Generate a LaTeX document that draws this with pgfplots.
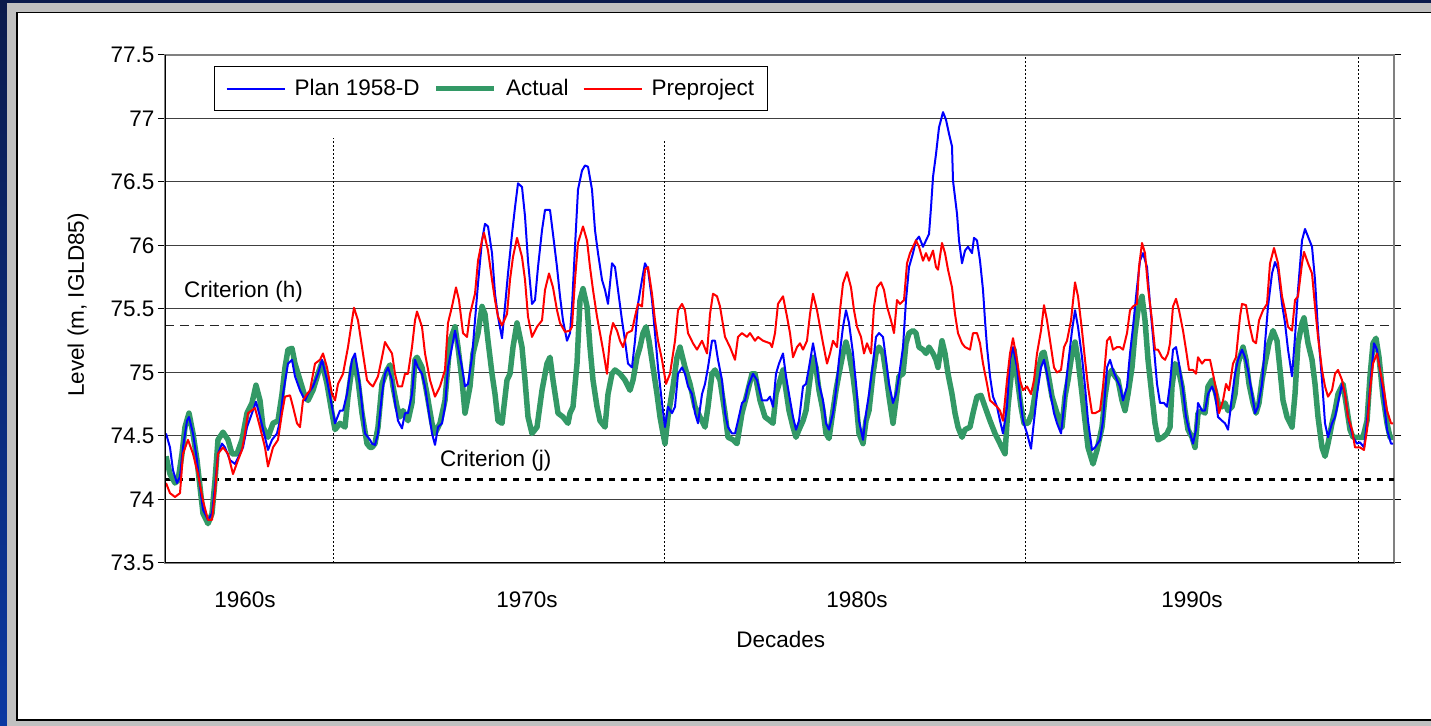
\documentclass[border=0pt]{standalone}
\usepackage{pgfplots}
\pgfplotsset{compat=1.18}
\usepackage{fontspec}
\setmainfont{Liberation Sans}
\definecolor{navytop}{HTML}{0A1A4C}
\definecolor{navybot}{HTML}{0A38A2}
\definecolor{frgray}{HTML}{C0C0C0}
\definecolor{actgreen}{HTML}{339966}
\begin{document}
\begin{tikzpicture}[font=\fontsize{22.5bp}{27bp}\selectfont]
\useasboundingbox (0,0) rectangle (1431bp,726bp);
\shade[top color=navytop, bottom color=navybot] (0,0) rectangle (1431bp,726bp);
\fill[frgray] (7bp,0) rectangle (1431bp,723bp);
\fill[white] (17bp,6bp) rectangle (1431bp,713.5bp);
\draw[black, line width=1.5bp] (1431bp,6bp) -- (17bp,6bp) -- (17bp,713.5bp) -- (1431bp,713.5bp);
\begin{axis}[
  at={(165bp,163bp)}, anchor=south west,
  scale only axis, width=1229bp, height=508bp,
  xmin=165, xmax=1394, ymin=73.5, ymax=77.5,
  ytick={73.5,74,74.5,75,75.5,76,76.5,77,77.5},
  yticklabels={73.5,74,74.5,75,75.5,76,76.5,77,77.5},
  ymajorgrids, grid style={black!75, line width=1bp},
  xtick={245,527,857,1192}, xticklabels={1960s,1970s,1980s,1990s},
  tick align=outside, major tick length=7bp,
  xtick style={draw=none},
  ytick style={black, line width=1bp},
  xticklabel style={anchor=base, yshift=-37bp},
  axis line style={draw=black!50, line width=1.5bp},
  ylabel={Level (m, IGLD85)},
  ylabel style={at={(rel axis cs:-0.0708,0.508)}, anchor=center},
  xlabel={Decades},
  xlabel style={at={(rel axis cs:0.501,0)}, anchor=base, yshift=-85bp},
  /pgf/number format/assume math mode=true,
  legend style={at={(rel axis cs:0.0399,0.978)}, anchor=north west, draw=black, line width=1bp, fill=white,
    legend columns=3, inner xsep=11bp, inner ysep=11bp,
    /tikz/every odd column/.append style={column sep=7bp},
    /tikz/every even column/.append style={column sep=12bp}},
  legend image code/.code={\draw[#1] (0bp,0bp) -- (58bp,0bp);},
  legend cell align=left,
]
% criteria and decade separators
\addplot[black!85, line width=1bp, dash pattern=on 9bp off 6bp, forget plot] coordinates {(165,75.37) (1394,75.37)};
\addplot[black, line width=3bp, dash pattern=on 6bp off 6bp, forget plot] coordinates {(165,74.16) (1394,74.16)};
\addplot[black, line width=1bp, dash pattern=on 1.5bp off 2.5bp, forget plot] coordinates {(333,73.5) (333,76.85)};
\addplot[black, line width=1bp, dash pattern=on 1.5bp off 2.5bp, forget plot] coordinates {(664,73.5) (664,76.83)};
\addplot[black, line width=1bp, dash pattern=on 1.5bp off 2.5bp, forget plot] coordinates {(1025,73.5) (1025,77.5)};
\addplot[black, line width=1bp, dash pattern=on 1.5bp off 2.5bp, forget plot] coordinates {(1358,73.5) (1358,77.5)};
% Actual
\addplot[actgreen, line width=5.5bp, line join=round, forget plot] coordinates {
(166,74.34)(170,74.20)(175,74.13)(178,74.15)(182,74.36)(185,74.57)(189,74.68)(193,74.52)(197,74.31)(200,74.10)(203,73.89)(208,73.81)(212,73.89)(215,74.15)(218,74.47)(223,74.53)(228,74.47)(232,74.36)(237,74.36)(242,74.47)(247,74.68)(252,74.76)(256,74.90)(260,74.78)(263,74.57)(268,74.49)(273,74.60)(278,74.62)(282,74.83)(285,75.04)(288,75.18)(292,75.19)(295,75.07)(300,74.94)(305,74.81)(308,74.78)(313,74.86)(318,74.99)(322,75.08)(327,74.91)(332,74.68)(335,74.55)(340,74.60)(345,74.57)(348,74.81)(352,75.04)(354,75.10)(358,74.94)(362,74.68)(367,74.44)(370,74.41)
(372,74.41)(375,74.44)(378,74.57)(382,74.91)(387,75.02)(390,75.06)(393,74.89)(397,74.73)(400,74.65)(403,74.70)(408,74.62)(412,74.76)(415,75.10)(417,75.12)(422,75.04)(427,74.83)(432,74.60)(435,74.52)(440,74.60)(445,74.78)(450,75.25)(455,75.36)(458,75.20)(462,74.94)(465,74.68)(470,74.89)(473,75.15)(478,75.31)(482,75.52)(485,75.46)(488,75.25)(492,74.99)(495,74.83)(498,74.62)(502,74.60)(507,74.94)(510,74.99)(513,75.20)(517,75.39)(522,75.20)(525,74.94)(528,74.65)(532,74.52)(537,74.57)(542,74.86)(547,75.07)(550,75.12)(553,74.94)(558,74.68)(563,74.65)(568,74.60)
(570,74.68)(573,74.73)(577,75.07)(580,75.57)(583,75.66)(587,75.52)(590,75.20)(593,74.94)(597,74.73)(600,74.62)(605,74.57)(608,74.83)(612,74.99)(615,75.02)(620,74.99)(625,74.94)(630,74.86)(633,74.94)(637,75.12)(640,75.20)(643,75.31)(646,75.36)(649,75.25)(653,75.04)(657,74.83)(660,74.65)(663,74.52)(665,74.44)(668,74.65)(673,74.89)(677,75.12)(680,75.20)(685,75.04)(690,74.91)(695,74.73)(700,74.65)(705,74.57)(708,74.73)(712,74.99)(715,75.02)(720,74.94)(725,74.68)(728,74.49)(733,74.47)(737,74.44)(742,74.68)(747,74.83)(752,74.99)(755,74.99)(760,74.78)(765,74.65)(770,74.62)
(773,74.60)(776,74.83)(779,74.91)(783,75.02)(786,74.86)(789,74.70)(793,74.57)(796,74.49)(799,74.55)(803,74.62)(806,74.70)(809,74.89)(813,75.12)(816,75.04)(819,74.86)(823,74.70)(826,74.52)(829,74.48)(833,74.70)(836,74.86)(839,74.99)(843,75.15)(846,75.24)(849,75.15)(853,74.97)(856,74.78)(859,74.52)(863,74.44)(866,74.62)(869,74.70)(873,74.99)(876,75.15)(879,75.20)(883,75.15)(886,74.99)(889,74.81)(893,74.60)(896,74.78)(899,74.97)(903,74.99)(906,75.23)(909,75.31)(913,75.33)(916,75.31)(919,75.20)(923,75.18)(926,75.15)(929,75.20)(933,75.15)(936,75.10)(938,75.04)(942,75.25)(945,75.15)(948,74.99)(952,74.83)(955,74.68)(958,74.57)(962,74.49)(965,74.55)(970,74.57)
(973,74.68)(977,74.81)(981,74.82)(985,74.73)(990,74.62)(995,74.52)(1000,74.44)(1005,74.36)(1008,74.73)(1012,75.04)(1014,75.18)(1017,74.97)(1021,74.73)(1024,74.60)(1028,74.60)(1032,74.68)(1035,74.83)(1038,75.01)(1042,75.15)(1044,75.16)(1047,75.04)(1052,74.81)(1057,74.68)(1062,74.57)(1065,74.81)(1068,74.94)(1072,75.15)(1075,75.24)(1078,75.10)(1082,74.83)(1085,74.62)(1088,74.41)(1093,74.28)(1097,74.39)(1102,74.57)(1105,74.81)(1108,74.97)(1112,75.02)(1115,74.97)(1118,74.94)(1122,74.78)(1125,74.70)(1128,74.83)(1132,75.04)(1135,75.31)(1138,75.49)(1142,75.60)(1145,75.41)(1148,75.10)(1152,74.81)(1155,74.60)(1158,74.47)(1163,74.49)(1167,74.52)(1170,74.57)
(1172,74.89)(1175,75.07)(1178,75.04)(1182,74.89)(1185,74.70)(1188,74.55)(1192,74.49)(1195,74.41)(1198,74.68)(1202,74.70)(1205,74.68)(1208,74.89)(1212,74.94)(1215,74.86)(1218,74.76)(1222,74.73)(1225,74.76)(1228,74.70)(1232,74.73)(1235,74.83)(1238,75.07)(1243,75.20)(1246,75.10)(1249,74.91)(1253,74.76)(1256,74.68)(1259,74.76)(1262,74.94)(1265,75.07)(1269,75.23)(1273,75.33)(1277,75.25)(1280,75.02)(1283,74.78)(1287,74.65)(1292,74.57)(1295,74.83)(1298,75.23)(1302,75.39)(1304,75.43)(1308,75.23)(1312,75.10)(1315,74.91)(1318,74.65)(1322,74.41)(1325,74.34)(1328,74.44)(1332,74.60)(1335,74.70)(1338,74.83)(1343,74.91)(1346,74.76)(1350,74.55)(1353,74.49)(1358,74.49)(1363,74.49)(1367,74.62)(1370,74.97)(1373,75.23)(1376,75.27)(1379,75.12)(1383,74.81)(1387,74.60)(1390,74.49)(1393,74.49)
};
% Plan 1958-D
\addplot[blue, line width=2bp, line join=round, forget plot] coordinates {
(166,74.52)(170,74.41)(173,74.23)(177,74.13)(180,74.18)(183,74.41)(187,74.62)(189,74.65)(193,74.52)(197,74.31)(200,74.10)(203,73.92)(208,73.84)(212,73.89)(215,74.10)(218,74.36)(222,74.44)(225,74.41)(230,74.31)(235,74.28)(240,74.36)(243,74.41)(247,74.57)(252,74.68)(256,74.77)(260,74.65)(265,74.49)(268,74.39)(272,74.47)(277,74.52)(280,74.62)(283,74.83)(288,75.07)(292,75.10)(295,74.97)(300,74.86)(305,74.78)(308,74.83)(313,74.89)(318,74.99)(322,75.10)(327,74.94)(332,74.73)(335,74.60)(340,74.70)(343,74.70)(347,74.83)(352,75.10)(355,75.15)(360,74.89)(365,74.52)(370,74.47)
(372,74.44)(375,74.43)(378,74.52)(382,74.83)(385,74.99)(388,75.04)(392,74.94)(395,74.76)(398,74.62)(402,74.56)(405,74.68)(408,74.68)(412,74.83)(415,75.10)(418,75.04)(422,74.99)(425,74.89)(428,74.73)(432,74.52)(435,74.43)(438,74.57)(442,74.60)(445,74.73)(448,75.04)(452,75.20)(455,75.33)(458,75.20)(462,75.04)(465,74.89)(468,74.91)(472,75.12)(475,75.41)(478,75.70)(482,76.04)(485,76.17)(488,76.15)(492,75.94)(495,75.62)(498,75.44)(502,75.27)(505,75.52)(508,75.78)(512,76.09)(515,76.30)(518,76.49)(522,76.46)(525,76.23)(528,75.88)(532,75.54)(535,75.57)(538,75.83)(542,76.12)(545,76.28)(550,76.28)(553,76.09)(557,75.83)(560,75.60)(563,75.41)(567,75.25)(570,75.31)
(572,75.52)(575,75.99)(578,76.44)(582,76.59)(585,76.63)(588,76.62)(592,76.44)(595,76.12)(598,75.94)(602,75.73)(605,75.65)(608,75.54)(612,75.86)(615,75.83)(618,75.65)(622,75.41)(625,75.25)(628,75.07)(632,75.04)(635,75.25)(638,75.54)(642,75.73)(645,75.86)(648,75.81)(652,75.57)(655,75.31)(658,75.04)(662,74.76)(665,74.57)(668,74.73)(672,74.68)(675,74.73)(678,74.99)(682,75.04)(685,74.99)(688,74.89)(692,74.83)(695,74.68)(698,74.60)(702,74.83)(705,74.91)(708,75.04)(712,75.25)(715,75.25)(718,75.10)(722,74.94)(725,74.68)(728,74.57)(732,74.52)(735,74.52)(738,74.62)(742,74.76)(745,74.78)(748,74.89)(753,74.99)(757,74.94)(762,74.78)(767,74.78)(770,74.81)
(773,74.73)(776,74.99)(779,75.07)(783,75.15)(786,74.97)(789,74.83)(793,74.65)(796,74.55)(799,74.62)(803,74.89)(806,74.91)(809,75.04)(813,75.23)(816,75.10)(819,74.91)(823,74.78)(826,74.60)(829,74.55)(833,74.68)(836,74.86)(839,75.10)(843,75.36)(846,75.49)(849,75.39)(853,75.15)(856,74.91)(859,74.62)(863,74.47)(866,74.68)(869,74.83)(873,75.07)(876,75.28)(879,75.31)(883,75.28)(886,75.10)(889,74.91)(893,74.76)(896,74.83)(899,74.97)(903,75.20)(906,75.57)(909,75.83)(913,75.94)(916,76.04)(919,76.07)(923,75.99)(926,76.04)(929,76.09)(931,76.30)(933,76.54)(936,76.72)(939,76.93)(943,77.05)(946,76.99)(949,76.88)(952,76.78)(953,76.51)(957,76.25)(959,76.04)(962,75.86)(965,75.96)(968,75.99)
(972,75.94)(974,76.06)(977,76.04)(980,75.88)(983,75.65)(985,75.41)(987,75.20)(990,74.97)(993,74.81)(997,74.73)(1000,74.62)(1003,74.52)(1007,74.73)(1010,75.10)(1013,75.20)(1017,75.04)(1020,74.81)(1023,74.62)(1027,74.52)(1031,74.40)(1034,74.62)(1037,74.83)(1041,75.04)(1044,75.10)(1047,74.99)(1051,74.81)(1054,74.68)(1057,74.60)(1061,74.52)(1064,74.73)(1067,74.99)(1072,75.33)(1075,75.49)(1078,75.36)(1082,75.12)(1085,74.89)(1088,74.62)(1092,74.39)(1095,74.41)(1100,74.47)(1103,74.62)(1107,75.04)(1110,75.10)(1113,75.02)(1117,74.94)(1120,74.89)(1123,74.78)(1127,74.89)(1130,75.15)(1133,75.36)(1137,75.67)(1140,75.88)(1143,75.94)(1147,75.83)(1150,75.54)(1153,75.28)(1157,74.91)(1160,74.76)(1164,74.76)(1167,74.73)
(1170,74.91)(1173,75.18)(1176,75.20)(1179,75.07)(1183,74.86)(1186,74.65)(1189,74.55)(1193,74.44)(1196,74.55)(1198,74.76)(1202,74.70)(1205,74.70)(1208,74.83)(1212,74.89)(1215,74.83)(1218,74.65)(1222,74.62)(1225,74.60)(1228,74.55)(1232,74.81)(1235,74.99)(1238,75.10)(1242,75.18)(1245,75.12)(1248,75.02)(1252,74.83)(1255,74.68)(1258,74.73)(1262,74.91)(1265,75.23)(1268,75.52)(1272,75.78)(1275,75.87)(1278,75.81)(1282,75.54)(1285,75.39)(1288,75.18)(1292,74.97)(1295,75.28)(1298,75.65)(1302,76.04)(1305,76.13)(1308,76.07)(1312,75.99)(1315,75.73)(1318,75.33)(1322,74.94)(1325,74.60)(1328,74.49)(1332,74.60)(1335,74.65)(1338,74.76)(1342,74.91)(1345,74.83)(1348,74.65)(1353,74.49)(1357,74.44)(1360,74.45)(1364,74.41)(1367,74.62)(1371,74.97)(1374,75.23)(1377,75.18)(1380,75.02)(1384,74.76)(1387,74.55)(1391,74.44)(1393,74.44)
};
% Preproject
\addplot[red, line width=2bp, line join=round, forget plot] coordinates {
(166,74.13)(170,74.05)(175,74.02)(180,74.05)(183,74.36)(188,74.47)(193,74.36)(198,74.20)(203,73.99)(208,73.84)(212,73.84)(215,74.05)(218,74.36)(223,74.41)(228,74.36)(233,74.20)(238,74.31)(242,74.39)(245,74.52)(248,74.68)(255,74.72)(260,74.57)(265,74.41)(268,74.26)(273,74.41)(278,74.47)(282,74.68)(285,74.81)(290,74.82)(293,74.73)(297,74.60)(300,74.57)(303,74.78)(307,74.83)(310,74.86)(315,75.07)(320,75.10)(323,75.15)(327,75.04)(332,74.83)(335,74.78)(338,74.91)(343,74.99)(348,75.20)(352,75.41)(354,75.51)(358,75.41)(362,75.20)(367,74.94)(370,74.91)
(373,74.89)(378,74.97)(382,75.12)(385,75.24)(388,75.20)(392,75.15)(395,74.99)(398,74.89)(402,74.89)(405,74.99)(408,74.99)(412,75.20)(415,75.41)(417,75.48)(422,75.36)(425,75.15)(430,74.94)(435,74.81)(440,74.89)(445,75.02)(448,75.39)(452,75.52)(456,75.67)(459,75.57)(463,75.31)(467,75.28)(470,75.46)(475,75.62)(478,75.88)(482,76.04)(484,76.10)(488,75.96)(492,75.73)(495,75.57)(498,75.44)(502,75.37)(507,75.46)(510,75.73)(513,75.91)(517,76.06)(522,75.91)(525,75.73)(528,75.44)(532,75.28)(537,75.36)(542,75.41)(545,75.65)(549,75.78)(553,75.67)(557,75.49)(560,75.39)(565,75.32)(570,75.33)
(572,75.36)(575,75.73)(578,76.02)(583,76.15)(587,76.04)(590,75.83)(593,75.65)(597,75.44)(600,75.31)(603,75.18)(607,74.99)(610,75.28)(613,75.39)(617,75.33)(620,75.25)(623,75.20)(627,75.31)(632,75.33)(635,75.44)(638,75.54)(642,75.52)(645,75.81)(648,75.83)(652,75.62)(655,75.41)(658,75.25)(662,75.10)(666,74.91)(670,74.99)(675,75.25)(678,75.49)(682,75.54)(685,75.49)(688,75.31)(693,75.23)(697,75.18)(702,75.25)(707,75.15)(710,75.46)(713,75.62)(717,75.60)(720,75.52)(725,75.28)(730,75.20)(735,75.10)(738,75.28)(742,75.31)(747,75.28)(750,75.31)(755,75.25)(758,75.28)(763,75.25)(770,75.23)
(772,75.20)(775,75.31)(778,75.54)(783,75.60)(787,75.44)(790,75.31)(793,75.12)(797,75.20)(800,75.23)(803,75.18)(807,75.25)(810,75.46)(813,75.62)(817,75.49)(820,75.36)(823,75.23)(827,75.07)(830,75.15)(833,75.25)(837,75.20)(840,75.49)(843,75.70)(847,75.79)(851,75.67)(854,75.49)(857,75.36)(861,75.28)(864,75.15)(867,75.23)(871,75.15)(874,75.52)(877,75.67)(881,75.71)(884,75.65)(887,75.52)(891,75.41)(894,75.31)(897,75.57)(900,75.54)(904,75.57)(907,75.86)(910,75.94)(913,75.99)(916,76.04)(919,75.99)(923,75.88)(926,75.94)(929,75.88)(933,75.96)(936,75.83)(938,75.81)(942,76.02)(945,75.94)(948,75.81)(952,75.67)(955,75.46)(958,75.31)(962,75.23)(965,75.20)(970,75.18)
(973,75.31)(977,75.31)(980,75.23)(983,75.07)(987,74.91)(990,74.78)(993,74.76)(997,74.73)(1000,74.70)(1003,74.62)(1007,74.94)(1010,75.15)(1013,75.27)(1017,75.10)(1020,74.94)(1023,74.86)(1027,74.89)(1031,74.83)(1034,74.94)(1037,75.15)(1041,75.33)(1044,75.53)(1047,75.41)(1051,75.20)(1054,75.04)(1057,75.00)(1061,75.02)(1064,75.20)(1067,75.25)(1071,75.41)(1075,75.71)(1078,75.60)(1082,75.33)(1085,75.10)(1088,74.89)(1092,74.68)(1095,74.68)(1100,74.70)(1103,74.89)(1107,75.25)(1110,75.28)(1113,75.18)(1117,75.20)(1120,75.20)(1123,75.18)(1127,75.31)(1130,75.49)(1133,75.52)(1137,75.54)(1139,75.83)(1142,76.02)(1145,75.94)(1148,75.67)(1152,75.41)(1155,75.18)(1158,75.18)(1162,75.12)(1165,75.10)(1168,75.15)(1170,75.23)
(1173,75.52)(1176,75.58)(1179,75.49)(1183,75.33)(1186,75.18)(1189,75.02)(1193,75.02)(1196,74.99)(1198,75.12)(1202,75.07)(1205,75.10)(1210,75.10)(1213,74.99)(1217,74.83)(1219,74.68)(1223,74.78)(1226,74.91)(1229,74.86)(1233,75.07)(1236,75.12)(1240,75.44)(1242,75.54)(1246,75.53)(1249,75.39)(1253,75.25)(1256,75.23)(1259,75.41)(1263,75.49)(1267,75.54)(1270,75.86)(1274,75.98)(1278,75.86)(1282,75.60)(1285,75.49)(1288,75.36)(1292,75.33)(1295,75.57)(1298,75.60)(1302,75.86)(1304,75.95)(1308,75.86)(1312,75.78)(1315,75.52)(1318,75.28)(1322,75.02)(1325,74.89)(1328,74.81)(1332,74.86)(1335,74.99)(1338,75.02)(1342,74.94)(1345,74.83)(1348,74.65)(1352,74.55)(1355,74.41)(1360,74.41)(1364,74.39)(1367,74.55)(1370,74.86)(1373,75.07)(1377,75.15)(1380,75.02)(1384,74.86)(1387,74.70)(1391,74.60)(1393,74.60)
};
\addlegendimage{blue, line width=2bp}
\addlegendentry{Plan 1958-D}
\addlegendimage{actgreen, line width=5.5bp}
\addlegendentry{Actual}
\addlegendimage{red, line width=2bp}
\addlegendentry{Preproject}
\node[anchor=west, inner sep=0pt] at (axis cs:184,75.634) {Criterion (h)};
\node[anchor=west, inner sep=0pt] at (axis cs:440,74.303) {Criterion (j)};
\draw[black, line width=1.5bp] (rel axis cs:0,1) -- (rel axis cs:0,0) -- (rel axis cs:1,0);
\end{axis}
\end{tikzpicture}
\end{document}
